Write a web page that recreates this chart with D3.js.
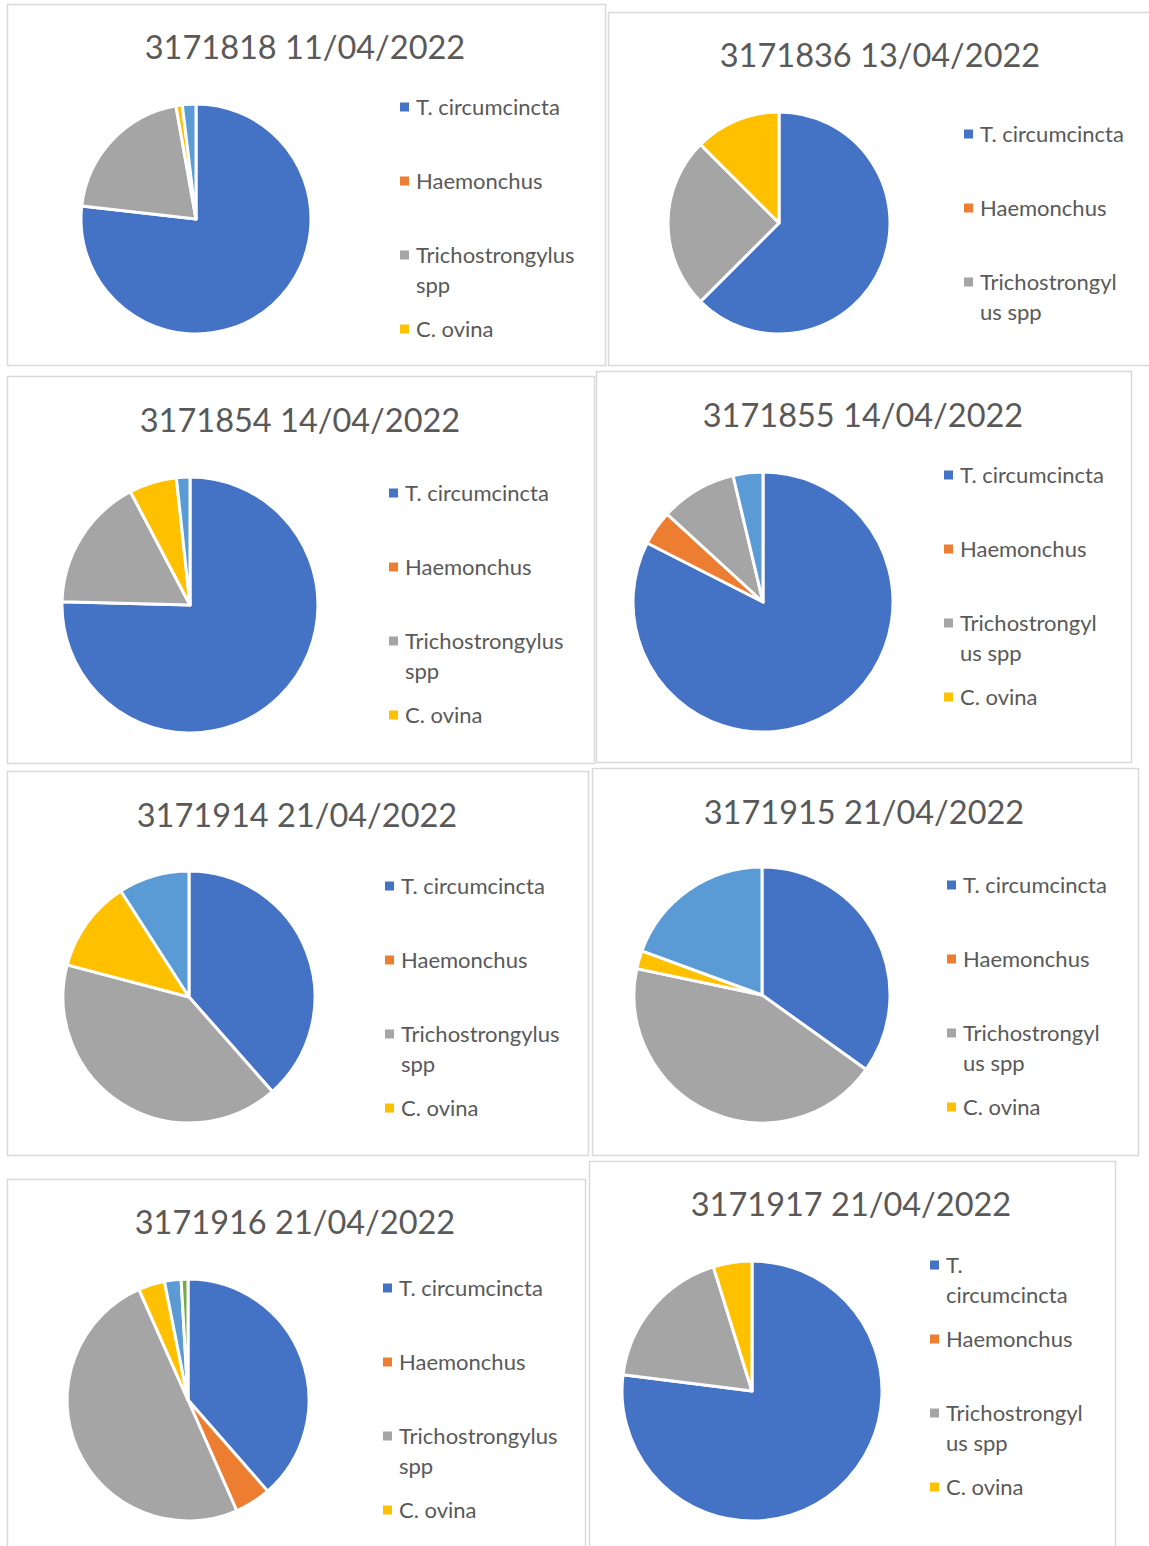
<!DOCTYPE html>
<html>
<head>
<meta charset="utf-8">
<script src="https://cdn.jsdelivr.net/npm/d3@7"></script>
<style>
  html, body { margin: 0; padding: 0; background: #fff; }
  svg { display: block; }
</style>
</head>
<body>
<script>
// ---------- DATA ----------
const categories = ["T. circumcincta", "Haemonchus", "Trichostrongylus spp", "C. ovina", "Series 5", "Series 6"];
const colors = ["#4472C4", "#ED7D31", "#A5A5A5", "#FFC000", "#5B9BD5", "#70AD47"];

const titles = [
  "3171818 11/04/2022", "3171836 13/04/2022",
  "3171854 14/04/2022", "3171855 14/04/2022",
  "3171914 21/04/2022", "3171915 21/04/2022",
  "3171916 21/04/2022", "3171917 21/04/2022"
];

// percentage shares per sample (order = categories)
const vals3171818 = [76.8, 0, 20.4, 0.9, 1.9, 0];
const vals3171836 = [62.5, 0, 25.0, 12.5, 0, 0];
const vals3171854 = [75.4, 0, 16.9, 6.0, 1.7, 0];
const vals3171855 = [82.5, 4.3, 9.5, 0, 3.7, 0];
const vals3171914 = [38.5, 0, 40.6, 11.8, 9.1, 0];
const vals3171915 = [34.9, 0, 43.4, 2.3, 19.4, 0];
const vals3171916 = [38.3, 4.8, 49.6, 3.5, 2.2, 0.9];
const vals3171917 = [77.0, 0, 18.2, 4.8, 0, 0];

// legend texts as wrapped in each chart
const legendLinesWide   = [["T. circumcincta"], ["Haemonchus"], ["Trichostrongylus", "spp"], ["C. ovina"]];
const legendLinesMid    = [["T. circumcincta"], ["Haemonchus"], ["Trichostrongyl", "us spp"], ["C. ovina"]];
const legendLinesNarrow = [["T.", "circumcincta"], ["Haemonchus"], ["Trichostrongyl", "us spp"], ["C. ovina"]];

const seriesValues = [vals3171818, vals3171836, vals3171854, vals3171855,
                      vals3171914, vals3171915, vals3171916, vals3171917];

// ---------- LAYOUT ----------
const W = 1149, H = 1546;
const layout = [
  { box: [7, 4, 598, 361],     title: [305, 47],   pie: [196, 219, 115], legend: [400, 107], lines: legendLinesWide,   n: 4 },
  { box: [608, 12, 560, 353],  title: [880, 55],   pie: [779, 223, 111], legend: [964, 134], lines: legendLinesMid,    n: 3 },
  { box: [7, 376, 587, 387],   title: [300, 420],  pie: [190, 605, 128], legend: [389, 493], lines: legendLinesWide,   n: 4 },
  { box: [596, 371, 535, 391], title: [863, 415],  pie: [763, 602, 130], legend: [944, 475], lines: legendLinesMid,    n: 4 },
  { box: [7, 771, 581, 384],   title: [297, 815],  pie: [189, 997, 126], legend: [385, 886], lines: legendLinesWide,   n: 4 },
  { box: [592, 768, 546, 387], title: [864, 812],  pie: [762, 995, 128], legend: [947, 885], lines: legendLinesMid,    n: 4 },
  { box: [7, 1179, 578, 400],  title: [295, 1222], pie: [188, 1400, 121], legend: [383, 1288], lines: legendLinesWide, n: 4 },
  { box: [589, 1161, 526, 420], title: [851, 1204], pie: [752, 1391, 130], legend: [930, 1265], lines: legendLinesNarrow, n: 4 }
];

const FONT = "Lato, 'Open Sans', sans-serif";
const textColor = "#595959";
const legendStep = 74, lineStep = 30;

const svg = d3.select("body").append("svg")
  .attr("width", W).attr("height", H)
  .attr("viewBox", `0 0 ${W} ${H}`);

svg.append("rect").attr("width", W).attr("height", H).attr("fill", "#fff");

const pieGen = d3.pie().sort(null).value(d => d.value);
const color = d3.scaleOrdinal().domain(categories).range(colors);

layout.forEach((L, i) => {
  const g = svg.append("g");
  const [bx, by, bw, bh] = L.box;
  g.append("rect")
    .attr("x", bx + 0.5).attr("y", by + 0.5)
    .attr("width", bw).attr("height", bh)
    .attr("fill", "#fff")
    .attr("stroke", "#D9D9D9").attr("stroke-width", 1.5);

  g.append("text")
    .attr("x", L.title[0]).attr("y", L.title[1] + 12)
    .attr("text-anchor", "middle")
    .attr("font-family", FONT).attr("font-size", 32.5)
    .attr("fill", textColor)
    .text(titles[i]);

  const data = categories.map((c, k) => ({ cat: c, value: seriesValues[i][k] }));
  const arcs = pieGen(data).filter(d => d.value > 0);
  const [cx, cy, r] = L.pie;
  const arc = d3.arc().innerRadius(0).outerRadius(r);
  g.append("g").attr("transform", `translate(${cx},${cy})`)
    .selectAll("path").data(arcs).join("path")
    .attr("d", arc)
    .attr("fill", d => color(d.data.cat))
    .attr("stroke", "#fff").attr("stroke-width", 3)
    .attr("stroke-linejoin", "round");

  const [lx, ly] = L.legend;
  for (let k = 0; k < L.n; k++) {
    const y = ly + k * legendStep;
    g.append("rect")
      .attr("x", lx).attr("y", y - 4.5)
      .attr("width", 9).attr("height", 9)
      .attr("fill", colors[k]);
    const t = g.append("text")
      .attr("font-family", FONT).attr("font-size", 22)
      .attr("fill", textColor);
    L.lines[k].forEach((ln, j) => {
      t.append("tspan")
        .attr("x", lx + 16).attr("y", y + 8 + j * lineStep)
        .text(ln);
    });
  }
});
</script>
</body>
</html>
